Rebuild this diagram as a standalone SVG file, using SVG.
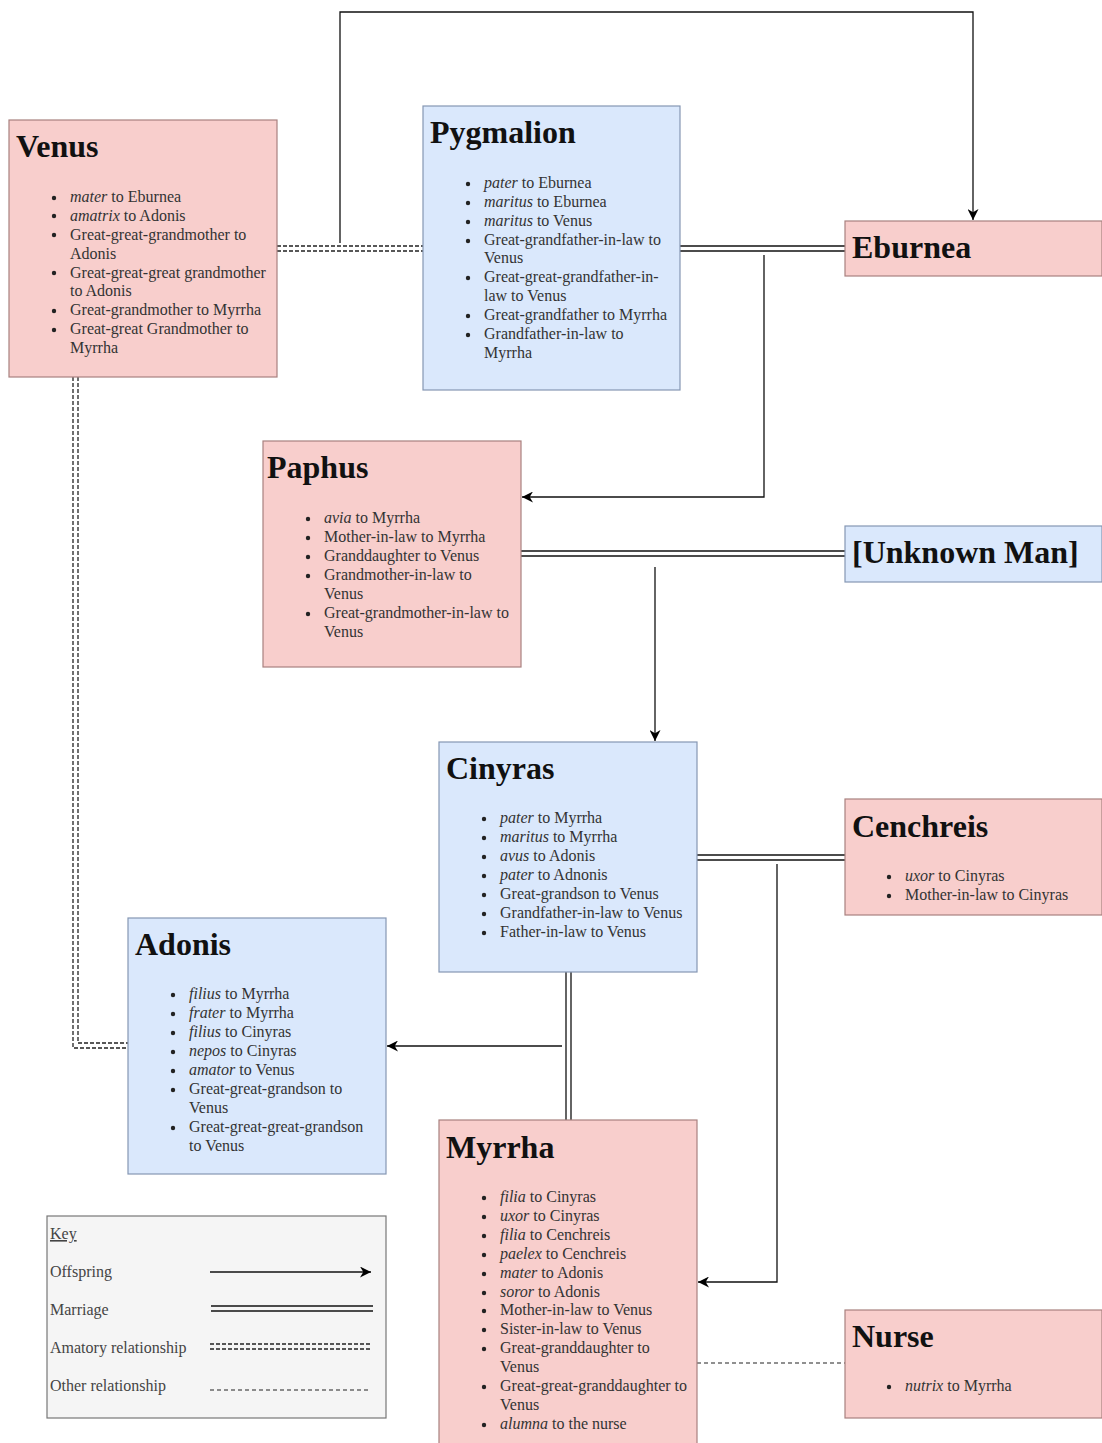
<svg xmlns="http://www.w3.org/2000/svg" width="1102" height="1443" viewBox="0 0 1102 1443">
<defs>
<marker id="arr" viewBox="0 0 10 10" refX="10" refY="5" markerWidth="11" markerHeight="11" markerUnits="userSpaceOnUse" orient="auto">
<path d="M0,0 L10,5 L0,10 L3,5 Z" fill="#000"/>
</marker>
<style>
.pink{fill:#f8cecc;stroke:#a8817f;stroke-width:1.2}
.blue{fill:#dae8fc;stroke:#8597b3;stroke-width:1.2}
.key{fill:#f5f5f5;stroke:#777;stroke-width:1.2}
.t{font-family:"Liberation Serif","Times New Roman",serif;font-weight:bold;font-size:32px;fill:#111}
.b{font-family:"Liberation Serif","Times New Roman",serif;font-size:16px;fill:#333}
.k{font-family:"Liberation Serif","Times New Roman",serif;font-size:16px;fill:#444}
.dot{fill:#222}
.off{fill:none;stroke:#111;stroke-width:1.3}
.mar{fill:none;stroke:#111;stroke-width:1.3}
.ama{fill:none;stroke:#222;stroke-width:1.3;stroke-dasharray:4 2}
.oth{fill:none;stroke:#222;stroke-width:1.2;stroke-dasharray:4 3}
</style>
</defs>
<rect width="1102" height="1443" fill="#fff"/>

<g id="connectors">
<line class="ama" x1="277" y1="246" x2="423" y2="246"/>
<line class="ama" x1="277" y1="251" x2="423" y2="251"/>
<polyline class="off" points="340,243 340,12 973,12 973,220" marker-end="url(#arr)"/>
<line class="mar" x1="680" y1="246" x2="845" y2="246"/>
<line class="mar" x1="680" y1="251" x2="845" y2="251"/>
<polyline class="off" points="764,255 764,497 522,497" marker-end="url(#arr)"/>
<line class="mar" x1="521" y1="551" x2="845" y2="551"/>
<line class="mar" x1="521" y1="556" x2="845" y2="556"/>
<polyline class="off" points="655,567 655,741" marker-end="url(#arr)"/>
<line class="mar" x1="697" y1="855" x2="845" y2="855"/>
<line class="mar" x1="697" y1="860" x2="845" y2="860"/>
<polyline class="off" points="777,864 777,1282 698,1282" marker-end="url(#arr)"/>
<line class="mar" x1="566" y1="972" x2="566" y2="1120"/>
<line class="mar" x1="571" y1="972" x2="571" y2="1120"/>
<polyline class="off" points="562,1046 387,1046" marker-end="url(#arr)"/>
<polyline class="ama" points="73,377 73,1048 128,1048"/>
<polyline class="ama" points="78,377 78,1043 128,1043"/>
<line class="oth" x1="697" y1="1363" x2="845" y2="1363"/>
</g>

<g id="venus">
<rect class="pink" x="9" y="120" width="268" height="257"/>
<text class="t" x="16" y="157">Venus</text>
<g class="dot"><circle cx="54" cy="198" r="2.2"/><circle cx="54" cy="216" r="2.2"/><circle cx="54" cy="235" r="2.2"/><circle cx="54" cy="273" r="2.2"/><circle cx="54" cy="311" r="2.2"/><circle cx="54" cy="330" r="2.2"/></g>
<text class="b" x="70" y="202"><tspan font-style="italic">mater</tspan> to Eburnea</text>
<text class="b" x="70" y="221"><tspan font-style="italic">amatrix</tspan> to Adonis</text>
<text class="b" x="70" y="240">Great-great-grandmother to</text>
<text class="b" x="70" y="259">Adonis</text>
<text class="b" x="70" y="278">Great-great-great grandmother</text>
<text class="b" x="70" y="296">to Adonis</text>
<text class="b" x="70" y="315">Great-grandmother to Myrrha</text>
<text class="b" x="70" y="334">Great-great Grandmother to</text>
<text class="b" x="70" y="353">Myrrha</text>
</g>

<g id="pygmalion">
<rect class="blue" x="423" y="106" width="257" height="284"/>
<text class="t" x="430" y="143">Pygmalion</text>
<g class="dot"><circle cx="468" cy="184" r="2.2"/><circle cx="468" cy="203" r="2.2"/><circle cx="468" cy="222" r="2.2"/><circle cx="468" cy="241" r="2.2"/><circle cx="468" cy="278" r="2.2"/><circle cx="468" cy="316" r="2.2"/><circle cx="468" cy="335" r="2.2"/></g>
<text class="b" x="484" y="188"><tspan font-style="italic">pater</tspan> to Eburnea</text>
<text class="b" x="484" y="207"><tspan font-style="italic">maritus</tspan> to Eburnea</text>
<text class="b" x="484" y="226"><tspan font-style="italic">maritus</tspan> to Venus</text>
<text class="b" x="484" y="245">Great-grandfather-in-law to</text>
<text class="b" x="484" y="263">Venus</text>
<text class="b" x="484" y="282">Great-great-grandfather-in-</text>
<text class="b" x="484" y="301">law to Venus</text>
<text class="b" x="484" y="320">Great-grandfather to Myrrha</text>
<text class="b" x="484" y="339">Grandfather-in-law to</text>
<text class="b" x="484" y="358">Myrrha</text>
</g>

<g id="eburnea">
<rect class="pink" x="845" y="221" width="257" height="55"/>
<text class="t" x="852" y="258">Eburnea</text>
</g>

<g id="paphus">
<rect class="pink" x="263" y="441" width="258" height="226"/>
<text class="t" x="267" y="478">Paphus</text>
<g class="dot"><circle cx="308" cy="519" r="2.2"/><circle cx="308" cy="538" r="2.2"/><circle cx="308" cy="557" r="2.2"/><circle cx="308" cy="576" r="2.2"/><circle cx="308" cy="614" r="2.2"/></g>
<text class="b" x="324" y="523"><tspan font-style="italic">avia</tspan> to Myrrha</text>
<text class="b" x="324" y="542">Mother-in-law to Myrrha</text>
<text class="b" x="324" y="561">Granddaughter to Venus</text>
<text class="b" x="324" y="580">Grandmother-in-law to</text>
<text class="b" x="324" y="599">Venus</text>
<text class="b" x="324" y="618">Great-grandmother-in-law to</text>
<text class="b" x="324" y="637">Venus</text>
</g>

<g id="unknown-man">
<rect class="blue" x="845" y="526" width="257" height="56"/>
<text class="t" x="852" y="563">[Unknown Man]</text>
</g>

<g id="cinyras">
<rect class="blue" x="439" y="742" width="258" height="230"/>
<text class="t" x="446" y="779">Cinyras</text>
<g class="dot"><circle cx="484" cy="819" r="2.2"/><circle cx="484" cy="838" r="2.2"/><circle cx="484" cy="857" r="2.2"/><circle cx="484" cy="876" r="2.2"/><circle cx="484" cy="895" r="2.2"/><circle cx="484" cy="914" r="2.2"/><circle cx="484" cy="933" r="2.2"/></g>
<text class="b" x="500" y="823"><tspan font-style="italic">pater</tspan> to Myrrha</text>
<text class="b" x="500" y="842"><tspan font-style="italic">maritus</tspan> to Myrrha</text>
<text class="b" x="500" y="861"><tspan font-style="italic">avus</tspan> to Adonis</text>
<text class="b" x="500" y="880"><tspan font-style="italic">pater</tspan> to Adnonis</text>
<text class="b" x="500" y="899">Great-grandson to Venus</text>
<text class="b" x="500" y="918">Grandfather-in-law to Venus</text>
<text class="b" x="500" y="937">Father-in-law to Venus</text>
</g>

<g id="cenchreis">
<rect class="pink" x="845" y="799" width="257" height="116"/>
<text class="t" x="852" y="837">Cenchreis</text>
<g class="dot"><circle cx="889" cy="877" r="2.2"/><circle cx="889" cy="896" r="2.2"/></g>
<text class="b" x="905" y="881"><tspan font-style="italic">uxor</tspan> to Cinyras</text>
<text class="b" x="905" y="900">Mother-in-law to Cinyras</text>
</g>

<g id="adonis">
<rect class="blue" x="128" y="918" width="258" height="256"/>
<text class="t" x="135" y="955">Adonis</text>
<g class="dot"><circle cx="173" cy="995" r="2.2"/><circle cx="173" cy="1014" r="2.2"/><circle cx="173" cy="1033" r="2.2"/><circle cx="173" cy="1052" r="2.2"/><circle cx="173" cy="1071" r="2.2"/><circle cx="173" cy="1090" r="2.2"/><circle cx="173" cy="1128" r="2.2"/></g>
<text class="b" x="189" y="999"><tspan font-style="italic">filius</tspan> to Myrrha</text>
<text class="b" x="189" y="1018"><tspan font-style="italic">frater</tspan> to Myrrha</text>
<text class="b" x="189" y="1037"><tspan font-style="italic">filius</tspan> to Cinyras</text>
<text class="b" x="189" y="1056"><tspan font-style="italic">nepos</tspan> to Cinyras</text>
<text class="b" x="189" y="1075"><tspan font-style="italic">amator</tspan> to Venus</text>
<text class="b" x="189" y="1094">Great-great-grandson to</text>
<text class="b" x="189" y="1113">Venus</text>
<text class="b" x="189" y="1132">Great-great-great-grandson</text>
<text class="b" x="189" y="1151">to Venus</text>
</g>

<g id="myrrha">
<rect class="pink" x="439" y="1120" width="258" height="330"/>
<text class="t" x="446" y="1158">Myrrha</text>
<g class="dot"><circle cx="484" cy="1198" r="2.2"/><circle cx="484" cy="1217" r="2.2"/><circle cx="484" cy="1236" r="2.2"/><circle cx="484" cy="1255" r="2.2"/><circle cx="484" cy="1274" r="2.2"/><circle cx="484" cy="1293" r="2.2"/><circle cx="484" cy="1311" r="2.2"/><circle cx="484" cy="1330" r="2.2"/><circle cx="484" cy="1349" r="2.2"/><circle cx="484" cy="1387" r="2.2"/><circle cx="484" cy="1425" r="2.2"/></g>
<text class="b" x="500" y="1202"><tspan font-style="italic">filia</tspan> to Cinyras</text>
<text class="b" x="500" y="1221"><tspan font-style="italic">uxor</tspan> to Cinyras</text>
<text class="b" x="500" y="1240"><tspan font-style="italic">filia</tspan> to Cenchreis</text>
<text class="b" x="500" y="1259"><tspan font-style="italic">paelex</tspan> to Cenchreis</text>
<text class="b" x="500" y="1278"><tspan font-style="italic">mater</tspan> to Adonis</text>
<text class="b" x="500" y="1297"><tspan font-style="italic">soror</tspan> to Adonis</text>
<text class="b" x="500" y="1315">Mother-in-law to Venus</text>
<text class="b" x="500" y="1334">Sister-in-law to Venus</text>
<text class="b" x="500" y="1353">Great-granddaughter to</text>
<text class="b" x="500" y="1372">Venus</text>
<text class="b" x="500" y="1391">Great-great-granddaughter to</text>
<text class="b" x="500" y="1410">Venus</text>
<text class="b" x="500" y="1429"><tspan font-style="italic">alumna</tspan> to the nurse</text>
</g>

<g id="nurse">
<rect class="pink" x="845" y="1310" width="257" height="108"/>
<text class="t" x="852" y="1347">Nurse</text>
<circle class="dot" cx="889" cy="1387" r="2.2"/>
<text class="b" x="905" y="1391"><tspan font-style="italic">nutrix</tspan> to Myrrha</text>
</g>

<g id="key">
<rect class="key" x="47" y="1216" width="339" height="202"/>
<text class="k" x="50" y="1239" text-decoration="underline">Key</text>
<text class="k" x="50" y="1277">Offspring</text>
<text class="k" x="50" y="1315">Marriage</text>
<text class="k" x="50" y="1353">Amatory relationship</text>
<text class="k" x="50" y="1391">Other relationship</text>
<line class="off" x1="210" y1="1272" x2="371" y2="1272" marker-end="url(#arr)"/>
<line class="mar" x1="211" y1="1306" x2="373" y2="1306"/>
<line class="mar" x1="211" y1="1311" x2="373" y2="1311"/>
<line class="ama" x1="210" y1="1344" x2="372" y2="1344"/>
<line class="ama" x1="210" y1="1349" x2="372" y2="1349"/>
<line class="oth" x1="210" y1="1390" x2="370" y2="1390"/>
</g>
</svg>
